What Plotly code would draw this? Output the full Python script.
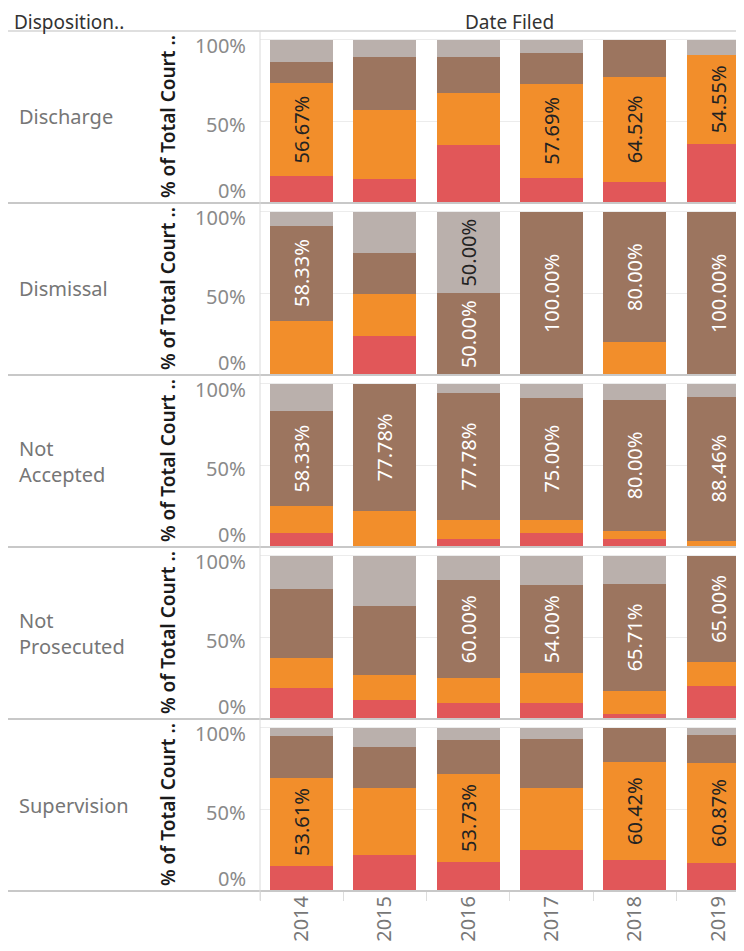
import plotly.graph_objects as go
from plotly.subplots import make_subplots

# 数据
dispositions = ["Discharge", "Dismissal", "Not<br>Accepted", "Not<br>Prosecuted", "Supervision"]
years = ["2014", "2015", "2016", "2017", "2018", "2019"]

# 每行一个列表（按年份），单位为 %，自下而上堆叠
red_pct = [
    [16.67, 14.5, 35.5, 15.38, 12.90, 36.36],
    [0, 23.63, 0, 0, 0, 0],
    [8.33, 0, 4.8, 8.33, 5.0, 0],
    [19.3, 11.9, 10.0, 10.0, 2.86, 20.0],
    [15.46, 22.2, 17.91, 25.3, 18.75, 17.39],
]
orange_pct = [
    [56.67, 42.4, 32.2, 57.69, 64.52, 54.55],
    [33.33, 26.27, 0, 0, 20.0, 0],
    [16.67, 22.22, 11.8, 8.33, 5.0, 3.85],
    [17.9, 14.8, 15.0, 18.0, 14.29, 15.0],
    [53.61, 40.7, 53.73, 37.7, 60.42, 60.87],
]
brown_pct = [
    [13.33, 32.6, 21.9, 19.23, 22.58, 0],
    [58.33, 25.05, 50.0, 100.0, 80.0, 100.0],
    [58.33, 77.78, 77.78, 75.0, 80.0, 88.46],
    [42.5, 42.5, 60.0, 54.0, 65.71, 65.0],
    [25.77, 25.3, 20.90, 30.2, 20.83, 17.39],
]
gray_pct = [
    [13.33, 10.5, 10.4, 7.69, 0, 9.09],
    [8.34, 25.05, 50.0, 0, 0, 0],
    [16.67, 0, 5.62, 8.34, 10.0, 7.69],
    [20.3, 30.8, 15.0, 18.0, 17.14, 0],
    [5.16, 11.8, 7.46, 6.8, 0, 4.35],
]

y_tick_vals = [0, 50, 100]
y_tick_text = ["0%", "50%", "100%"]

FONT = "Noto Sans"
series = [
    (red_pct, "#E15759", "#222222"),
    (orange_pct, "#F28E2B", "#222222"),
    (brown_pct, "#9C755F", "#FFFFFF"),
    (gray_pct, "#BAB0AC", "#222222"),
]

n_rows = len(dispositions)
fig = make_subplots(rows=n_rows, cols=1, shared_xaxes=True, vertical_spacing=0)

for r in range(n_rows):
    for data, color, txt_color in series:
        vals = data[r]
        fig.add_trace(go.Bar(
            x=years,
            y=vals,
            marker=dict(color=color, line=dict(width=0)),
            text=[f"{v:.2f}%" if v >= 50 else "" for v in vals],
            textposition="inside",
            insidetextanchor="middle",
            textangle=-90,
            textfont=dict(family=FONT, size=20, color=txt_color),
            showlegend=False,
            hoverinfo="skip",
        ), row=r + 1, col=1)

# 页面 body 默认有 8px 边距，图整体缩小 8px 来对齐
fig.update_layout(
    width=736, height=943,
    margin=dict(l=252, r=0, t=23, b=60),
    barmode="stack",
    bargap=0.244,
    plot_bgcolor="white",
    paper_bgcolor="white",
    font=dict(family=FONT),
)

fig.update_xaxes(
    type="category", range=[-0.5, 5.31],
    showgrid=False, zeroline=False, showline=False, fixedrange=True,
)
fig.update_xaxes(
    ticks="outside", tickson="boundaries", ticklen=9, tickcolor="#dddddd",
    tickangle=-90, tickfont=dict(family=FONT, size=20, color="#777777"),
    row=n_rows, col=1,
)
fig.update_yaxes(
    range=[0, 105.5], tickvals=y_tick_vals, showticklabels=False,
    gridcolor="#ececec", gridwidth=1, zeroline=False, showline=False, fixedrange=True,
)

# 线条
left_x = (5 - 260) / 484
shapes = [dict(type="line", xref="paper", yref="paper", x0=left_x, x1=1, y0=1, y1=1,
               line=dict(color="#d4d4d4", width=1.5))]
for k in range(n_rows):
    yb = 1 - (k + 1) / n_rows
    shapes.append(dict(type="line", xref="paper", yref="paper", x0=left_x, x1=1, y0=yb, y1=yb,
                       line=dict(color="#c8c8c8", width=2)))
shapes.append(dict(type="line", xref="paper", yref="paper", x0=0, x1=0, y0=-0.011, y1=1,
                   line=dict(color="#dadada", width=1)))
fig.update_layout(shapes=shapes)

# 文本注释（表头贴着图顶部，避免被裁切）
tick_shift = {0: 13, 50: -3, 100: -6}
head_y = 1 + 23 / 860
ann = [
    dict(text="Disposition..", xref="paper", yref="paper", x=(13 - 260) / 484, y=head_y,
         xanchor="left", yanchor="top", showarrow=False, borderpad=0,
         font=dict(family=FONT, size=19, color="#333333")),
    dict(text="Date Filed", xref="paper", yref="paper", x=(509 - 260) / 484, y=head_y,
         xanchor="center", yanchor="top", showarrow=False, borderpad=0,
         font=dict(family=FONT, size=19, color="#333333")),
]
for r in range(n_rows):
    yax = "y" if r == 0 else f"y{r + 1}"
    ann.append(dict(text=dispositions[r], xref="paper", yref=f"{yax} domain", x=(17 - 260) / 484, y=0.5,
                    xanchor="left", yanchor="middle", align="left", showarrow=False,
                    font=dict(family=FONT, size=20, color="#767676")))
    ann.append(dict(text="% of Total Court ..", xref="paper", yref=f"{yax} domain", x=(168 - 260) / 484, y=0.5,
                    xanchor="center", yanchor="middle", textangle=-90, showarrow=False,
                    font=dict(family=FONT, size=19, color="#1a1a1a", weight=600)))
    for tv, tt in zip(y_tick_vals, y_tick_text):
        ann.append(dict(text=tt, xref="paper", yref=yax, x=0, y=tv, xshift=-12, yshift=tick_shift[tv],
                        xanchor="right", yanchor="middle", showarrow=False,
                        font=dict(family=FONT, size=20, color="#8a8a8a")))
fig.update_layout(annotations=ann)

fig.write_html("out.html")
